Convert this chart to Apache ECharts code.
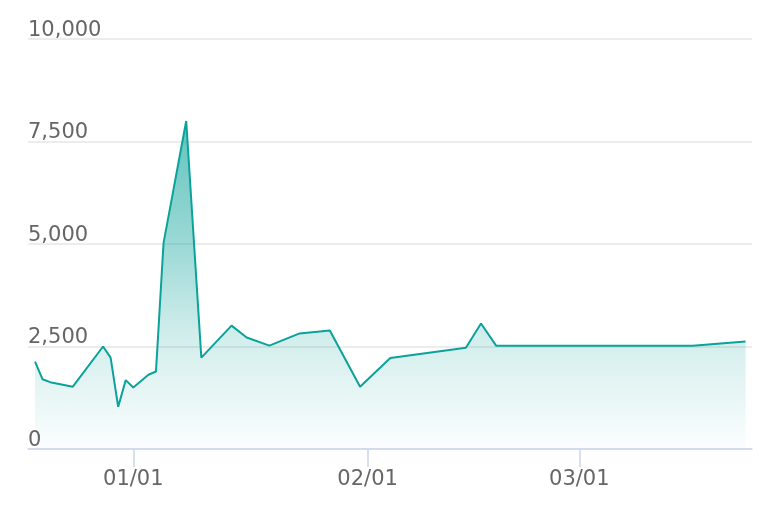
<!DOCTYPE html>
<html>
<head>
<meta charset="utf-8">
<style>html,body{margin:0;padding:0;background:#fff}#c{width:774px;height:522px}</style>
<script src="https://cdn.jsdelivr.net/npm/echarts@6/dist/echarts.min.js"></script>
</head>
<body>
<div id="c"></div>
<script>
var dates = ['2021-12-19','2021-12-20','2021-12-21','2021-12-24','2021-12-28','2021-12-29','2021-12-30','2021-12-31',
  '2022-01-01','2022-01-03','2022-01-04','2022-01-05','2022-01-08','2022-01-10','2022-01-14','2022-01-16','2022-01-19',
  '2022-01-23','2022-01-27','2022-01-31','2022-02-04','2022-02-14','2022-02-16','2022-02-18','2022-03-16','2022-03-23'];
var values = [2130,1700,1630,1520,2500,2230,1030,1680,
  1500,1810,1890,5020,8000,2230,3010,2720,2520,
  2820,2890,1520,2220,2470,3060,2520,2520,2620];
var yTicks = [0,2500,5000,7500,10000];

function ts(s){var p=s.split('-');return new Date(+p[0],+p[1]-1,+p[2]).getTime();}
var DAY = 86400000;
var data = dates.map(function(d,i){return [ts(d), values[i]];});

var chart = echarts.init(document.getElementById('c'));
chart.setOption({
  animation:false,
  grid:{left:28,right:22,top:39,bottom:73,containLabel:false},
  xAxis:{
    type:'time',
    min: ts(dates[0]) - 0.93*DAY,
    max: ts(dates[dates.length-1]) + 0.85*DAY,
    minInterval: 28*DAY,
    maxInterval: 31*DAY,
    axisLine:{show:true,lineStyle:{color:'#ccd6eb',width:1.5}},
    axisTick:{show:true,length:18,lineStyle:{color:'#ccd6eb',width:1.5}},
    minorTick:{show:false},
    axisLabel:{margin:20,color:'#666',fontFamily:'DejaVu Sans',fontSize:21,
      formatter:function(v){var d=new Date(v);var m=d.getMonth()+1,dd=d.getDate();return (m<10?'0':'')+m+'/'+(dd<10?'0':'')+dd;}},
    splitLine:{show:false}
  },
  yAxis:{
    type:'value',min:yTicks[0],max:yTicks[yTicks.length-1],interval:2500,
    axisLine:{show:false},axisTick:{show:false},
    axisLabel:{inside:true,margin:0,align:'left',verticalAlign:'bottom',color:'#666',fontFamily:'DejaVu Sans',fontSize:21,
      lineHeight:17,
      formatter:function(v){return v.toLocaleString('en-US');}},
    splitLine:{lineStyle:{color:'#e6e6e6',width:1.5}}
  },
  series:[{
    type:'line',data:data,symbol:'none',
    lineStyle:{color:'#0ba29a',width:2},
    itemStyle:{color:'#0ba29a'},
    areaStyle:{color:new echarts.graphic.LinearGradient(0,0,0,1,[
      {offset:0,color:'rgba(11,162,154,0.92)'},
      {offset:0.4,color:'rgba(11,162,154,0.56)'},
      {offset:0.65,color:'rgba(11,162,154,0.27)'},
      {offset:1,color:'rgba(11,162,154,0.02)'}])}
  }]
});
</script>
</body>
</html>
